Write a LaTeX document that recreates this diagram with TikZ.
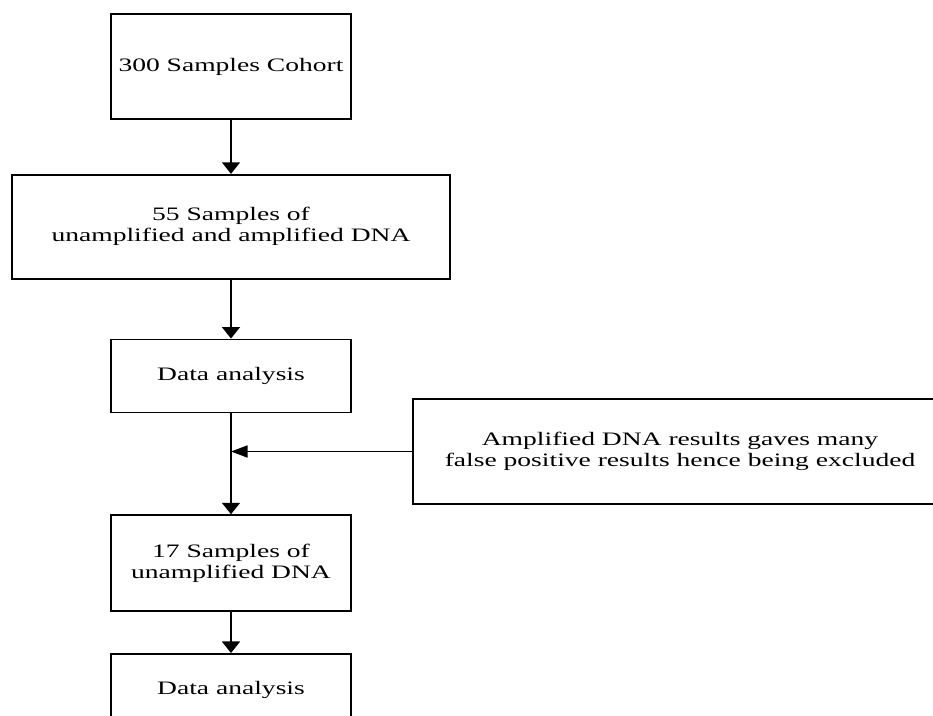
\documentclass[tikz,border=0pt]{standalone}
\usepackage{fontspec}
\setmainfont{Liberation Serif}[FakeStretch=1.45]
\usepackage{tikz}
\usetikzlibrary{arrows.meta}
\usetikzlibrary{positioning}
\tikzset{
    stage/.style={
           rectangle,
           draw=black, line width=1.7pt,
           minimum width=240pt,
           align=center,
           inner sep=2pt,
           font=\fontsize{19}{21}\selectfont,
           },
    down/.style={-{Triangle[width=18pt,length=11.5pt]}},
    sidearrow/.style={-{Triangle[width=12pt,length=16.5pt]}},
}

\begin{document}
\begin{tikzpicture}[x=1pt,y=1pt,line width=1.7pt,node distance=54pt]
  \useasboundingbox (0,0) rectangle (933,-715);
  \clip (0,0) rectangle (933,-715);

  \node[stage,minimum height=105pt]                    (cohort)                       at (231,-66.5) {300 Samples Cohort};
  \node[stage,minimum width=438pt,minimum height=104pt] (mixed)    [below=54pt of cohort]   {55 Samples of\\unamplified and amplified DNA};
  \node[stage,minimum height=73pt]                     (analysis) [below=59pt of mixed]    {Data analysis};
  \node[stage,minimum height=96pt]                     (unamp)    [below=101pt of analysis] {17 Samples of\\unamplified DNA};
  \node[stage,minimum height=73pt]                     (final)    [below=41pt of unamp]    {Data analysis};
  \node[stage,minimum width=534pt,minimum height=105pt] (excluded)                     at (680,-451.5) {Amplified DNA results gaves many\\false positive results hence being excluded};
  \coordinate (join) at (analysis.south |- excluded.west);

  \draw[down] (cohort) -- (mixed);
  \draw[down] (mixed) -- (analysis);
  \draw[down] (analysis) -- (unamp);
  \draw[down] (unamp) -- (final);
  \draw[sidearrow] (excluded) -- (join);
\end{tikzpicture}
\end{document}
